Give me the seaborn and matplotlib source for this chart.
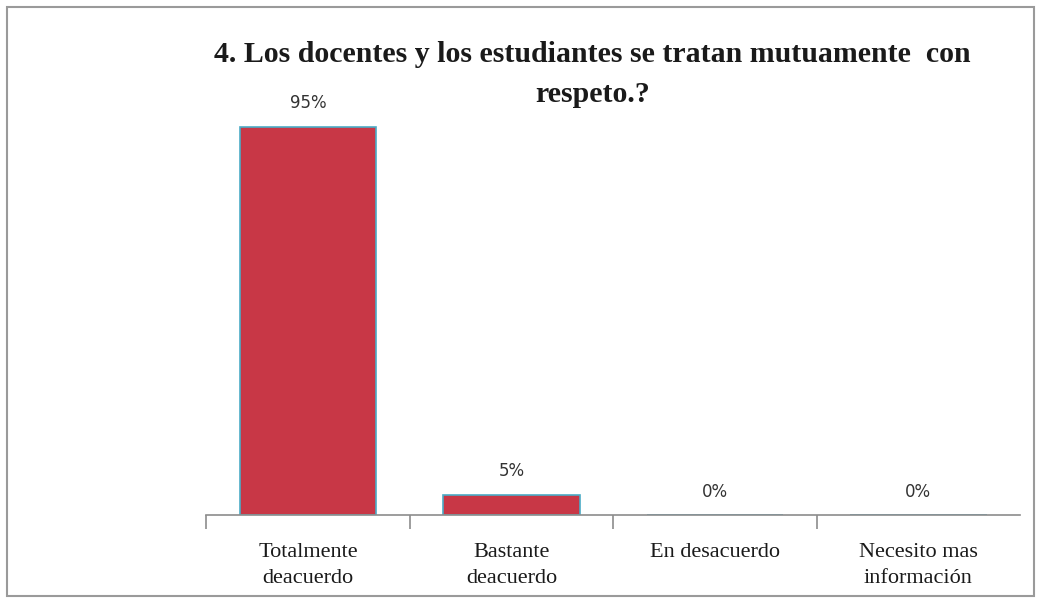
import matplotlib
matplotlib.use('Agg')
import matplotlib.pyplot as plt
import seaborn as sns
import pandas as pd
from matplotlib.patches import Rectangle

categorias = ["Totalmente\ndeacuerdo", "Bastante\ndeacuerdo", "En desacuerdo", "Necesito mas\ninformación"]
porcentajes = [95, 5, 0, 0]
etiquetas = ["95%", "5%", "0%", "0%"]

titulo_1 = "4. Los docentes y los estudiantes se tratan mutuamente  con"
titulo_2 = "respeto.?"

df = pd.DataFrame({"categoria": categorias, "valor": porcentajes})

sns.set_theme(style="white")
plt.rcParams['font.family'] = ['Liberation Serif', 'DejaVu Serif']

fig = plt.figure(figsize=(10.41, 6.03), dpi=100)
ax = fig.add_axes([0.198, 0.146, 0.782, 0.678])

sns.barplot(data=df, x="categoria", y="valor", color="#C83746", width=0.67,
            edgecolor="#4BACC6", linewidth=1.2, saturation=1, ax=ax)

ax.set_ylim(0, 100)
ax.set_xlim(-0.5, 3.5)
ax.set_xlabel("")
ax.set_ylabel("")
ax.set_yticks([])
for s in ["top", "right", "left"]:
    ax.spines[s].set_visible(False)
ax.spines["bottom"].set_color("#8c8c8c")
ax.spines["bottom"].set_linewidth(1.2)

# etiquetas de categoria y marcas entre categorias
ax.set_xticks(range(len(categorias)))
ax.set_xticklabels(categorias, fontsize=16, color="#1a1a1a", linespacing=1.5)
ax.tick_params(axis="x", which="major", length=0, pad=20)
ax.set_xticks([-0.5, 0.5, 1.5, 2.5], minor=True)
ax.tick_params(axis="x", which="minor", bottom=True, length=10, width=1.2,
               color="#8c8c8c", direction="out")

for i, (v, t) in enumerate(zip(porcentajes, etiquetas)):
    ax.text(i, v + 3.5, t, ha="center", va="bottom", fontsize=12,
            family=["DejaVu Sans"], color="#333333")

fig.text(0.569, 0.909, titulo_1, ha="center", va="center", fontsize=21.5,
         fontweight="bold", color="#1a1a1a")
fig.text(0.569, 0.843, titulo_2, ha="center", va="center", fontsize=21.5,
         fontweight="bold", color="#1a1a1a")

fig.patches.append(Rectangle((0.007, 0.011), 0.986, 0.978, transform=fig.transFigure,
                             fill=False, edgecolor="#9a9a9a", linewidth=1.5))

plt.savefig("out.png", dpi=100)
plt.close()
